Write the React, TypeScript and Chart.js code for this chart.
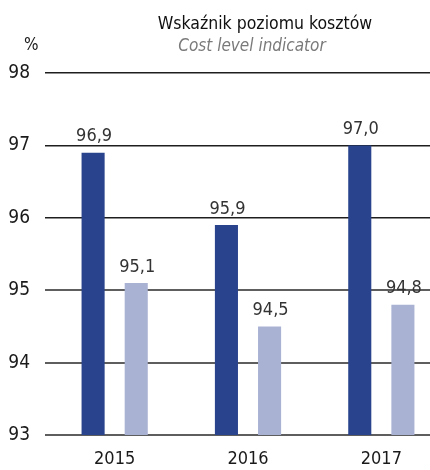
import React, { useEffect, useRef } from 'react';
import { Chart, registerables } from 'chart.js';

Chart.register(...registerables);

const categories = ['2015', '2016', '2017'];
const seriesDark = [96.9, 95.9, 97.0];
const seriesLight = [95.1, 94.5, 94.8];
const yTickValues = [93, 94, 95, 96, 97, 98];

const titleText = 'Wskaźnik poziomu kosztów';
const subtitleText = 'Cost level indicator';
const unitText = '%';

const FONT = "'Liberation Sans Narrow', 'DejaVu Sans Condensed', 'Roboto Condensed', Arial, sans-serif";

const valueLabels = {
  id: 'valueLabels',
  afterDatasetsDraw(chart: any) {
    const ctx = chart.ctx;
    ctx.save();
    ctx.font = `18px ${FONT}`;
    ctx.fillStyle = '#333333';
    ctx.textAlign = 'center';
    ctx.textBaseline = 'bottom';
    chart.data.datasets.forEach((ds: any, di: number) => {
      const meta = chart.getDatasetMeta(di);
      meta.data.forEach((el: any, i: number) => {
        const v = ds.data[i] as number;
        ctx.fillText(v.toFixed(1).replace('.', ','), el.x + 1, el.y - 7);
      });
    });
    ctx.restore();
  },
};

export default function App() {
  const ref = useRef<HTMLCanvasElement | null>(null);

  useEffect(() => {
    if (!ref.current) return;
    const chart = new Chart(ref.current, {
      type: 'bar',
      data: {
        labels: categories,
        datasets: [
          {
            label: 'Series 1',
            data: seriesDark,
            backgroundColor: '#29438C',
            categoryPercentage: 0.647,
            barPercentage: 0.535,
          },
          {
            label: 'Series 2',
            data: seriesLight,
            backgroundColor: '#A9B2D3',
            categoryPercentage: 0.647,
            barPercentage: 0.535,
          },
        ],
      },
      options: {
        responsive: false,
        animation: false,
        devicePixelRatio: 1,
        layout: { padding: { top: 73, left: 0, right: 0, bottom: 0 } },
        plugins: {
          legend: { display: false },
          title: { display: false },
          tooltip: { enabled: false },
        },
        scales: {
          x: {
            grid: { display: false, drawTicks: false },
            border: { display: false },
            ticks: {
              font: { family: FONT, size: 18 },
              color: '#1a1a1a',
              padding: 14,
            },
            afterFit: (s: any) => {
              s.height = 35;
            },
          },
          y: {
            min: 93,
            max: 98,
            border: { display: false },
            afterBuildTicks: (s: any) => {
              s.ticks = yTickValues.map((v) => ({ value: v }));
            },
            ticks: {
              font: { family: FONT, size: 19 },
              color: '#1a1a1a',
              padding: 15,
            },
            grid: {
              color: (c: any) => (c.tick && c.tick.value >= 96 ? '#1e1e1e' : '#5e5e5e'),
              lineWidth: (c: any) => (c.tick && c.tick.value >= 96 ? 1.5 : 2),
              tickLength: 3,
            },
            afterFit: (s: any) => {
              s.width = 48;
            },
          },
        },
      },
      plugins: [valueLabels],
    });
    return () => chart.destroy();
  }, []);

  return (
    <div
      style={{
        position: 'absolute',
        left: 0,
        top: 0,
        width: 430,
        height: 470,
        overflow: 'hidden',
        background: '#ffffff',
        fontFamily: FONT,
      }}
    >
      <canvas ref={ref} width={448} height={470} style={{ display: 'block', width: 448, height: 470 }} />
      <div
        style={{
          position: 'absolute',
          left: 265,
          top: 13,
          transform: 'translateX(-50%)',
          whiteSpace: 'nowrap',
          fontSize: 17.5,
          lineHeight: '20px',
          color: '#111111',
        }}
      >
        {titleText}
      </div>
      <div
        style={{
          position: 'absolute',
          left: 252,
          top: 36,
          transform: 'translateX(-50%)',
          whiteSpace: 'nowrap',
          fontSize: 17,
          lineHeight: '18px',
          fontStyle: 'italic',
          color: '#7a7a7a',
        }}
      >
        {subtitleText}
      </div>
      <div
        style={{
          position: 'absolute',
          left: 24,
          top: 34,
          fontSize: 17,
          lineHeight: '20px',
          color: '#1a1a1a',
        }}
      >
        {unitText}
      </div>
    </div>
  );
}
